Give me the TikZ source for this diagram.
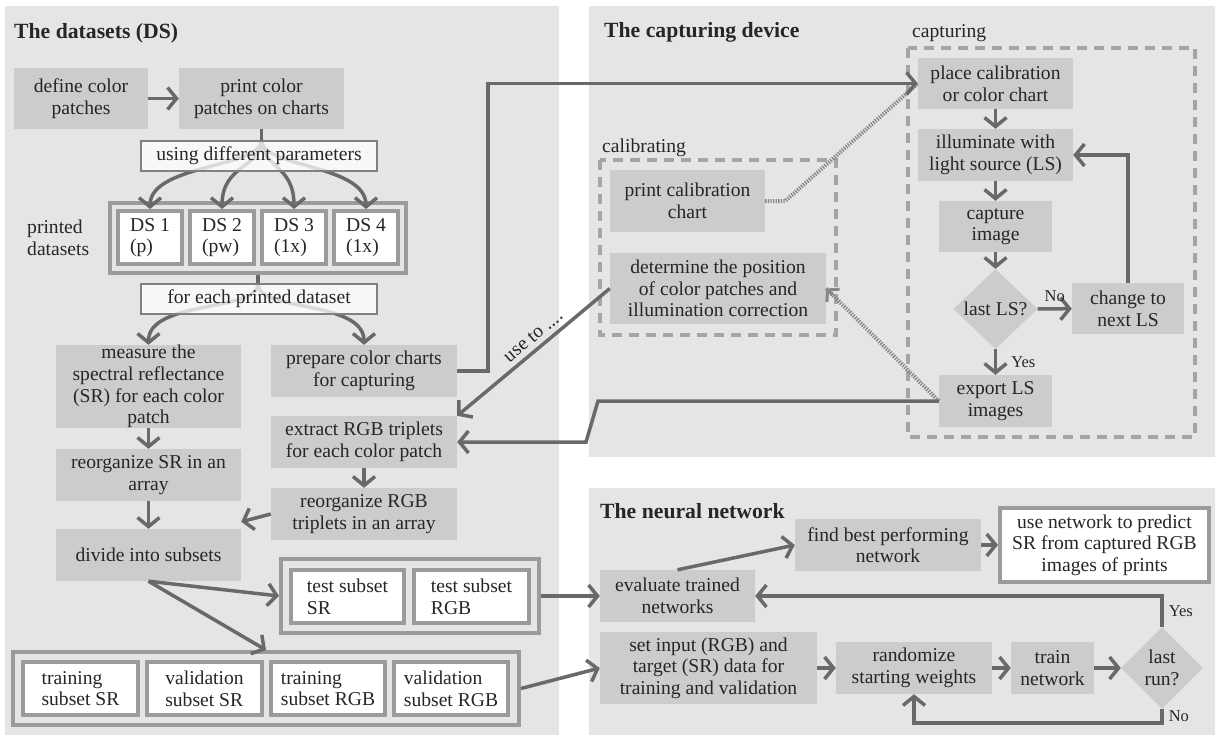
\documentclass[tikz,border=0pt]{standalone}
\usepackage{fontspec}
\setmainfont{Liberation Serif}
\usetikzlibrary{arrows.meta,shapes.geometric}

\definecolor{panelbg}{RGB}{229,229,229}
\definecolor{boxgray}{RGB}{204,204,204}
\definecolor{linegray}{RGB}{105,105,105}
\definecolor{framegray}{RGB}{155,155,155}
\definecolor{dashgray}{RGB}{165,165,165}
\definecolor{dotgray}{RGB}{135,135,135}
\definecolor{txtgray}{RGB}{38,38,38}

\newcommand{\bodyfont}{\fontsize{19.6}{21.6}\selectfont}
\newcommand{\headfont}{\fontsize{21.7}{24}\selectfont\bfseries}
\newcommand{\smallfont}{\fontsize{16.5}{19}\selectfont}

\tikzset{
  proc/.style={fill=boxgray, align=center, inner sep=0pt, text=txtgray, font=\bodyfont},
  subbox/.style={fill=white, draw=framegray, line width=4pt, align=left, inner sep=0pt, text=txtgray, font=\bodyfont},
  group/.style={draw=framegray, line width=4pt, inner sep=0pt},
  tag/.style={fill=white, fill opacity=.75, text opacity=1, draw=gray, line width=1.5pt, inner sep=0pt, text=txtgray, font=\bodyfont},
  decide/.style={diamond, aspect=1, fill=boxgray, inner sep=0pt, align=center, text=txtgray, font=\bodyfont},
  arr/.style={draw=linegray, line width=3.5pt, -{Straight Barb[length=9pt,width=22pt]}},
  dotline/.style={draw=dotgray, line width=4pt, dash pattern=on 1.3pt off 1.3pt},
  dottip/.style={draw=dotgray, line width=3pt, -{Straight Barb[length=8pt,width=18pt]}},
  dashbox/.style={draw=dashgray, line width=4pt, dash pattern=on 10pt off 7pt},
  head/.style={anchor=base west, inner sep=0pt, font=\headfont, text=txtgray},
  note/.style={inner sep=0pt, font=\bodyfont, text=txtgray},
  yesno/.style={inner sep=0pt, font=\smallfont, text=txtgray},
}

\begin{document}
\begin{tikzpicture}[x=1pt,y=-1pt]
  \useasboundingbox (0,0) rectangle (1218,739);
  \fill[white] (0,0) rectangle (1218,739);

  % panels
  \fill[panelbg] (5,6) rectangle (559,735);
  \fill[panelbg] (589,6) rectangle (1215,457);
  \fill[panelbg] (589,488) rectangle (1215,735);
  \node[head] (dstitle) at (14,38) {The datasets (DS)};
  \node[head] (camtitle) at (604,37) {The capturing device};
  \node[head] (nntitle) at (600,518) {The neural network};

  % the datasets
  \node[proc, minimum width=134, minimum height=61] (define) at (81,98.5) {define color\\patches};
  \node[proc, minimum width=165, minimum height=61] (print) at (261.5,98.5) {print color\\patches on charts};
  \node[group, minimum width=296, minimum height=70] (dsset) at (258,238) {};
  \node[subbox, minimum width=64, minimum height=53] (ds1) at (150,237.5) {DS 1\\(p)};
  \node[subbox, minimum width=64, minimum height=53] (ds2) at (222,237.5) {DS 2\\(pw)};
  \node[subbox, minimum width=64, minimum height=53] (ds3) at (294,237.5) {DS 3\\(1x)};
  \node[subbox, minimum width=64, minimum height=53] (ds4) at (366,237.5) {DS 4\\(1x)};
  \node[note, anchor=west, align=left] (printed) at (27,238) {printed\\datasets};
  \node[proc, minimum width=185, minimum height=83] (measure) at (148.5,386.5) {measure the\\spectral reflectance\\(SR) for each color\\patch};
  \node[proc, minimum width=186, minimum height=52] (prepare) at (364,371) {prepare color charts\\for capturing};
  \node[proc, minimum width=186, minimum height=52] (extract) at (364,442) {extract RGB triplets\\for each color patch};
  \node[proc, minimum width=185, minimum height=52] (reorgsr) at (148.5,475) {reorganize SR in an\\array};
  \node[proc, minimum width=186, minimum height=52] (reorgrgb) at (364,514) {reorganize RGB\\triplets in an array};
  \node[proc, minimum width=185, minimum height=52] (divide) at (148.5,555) {divide into subsets};
  \node[group, minimum width=258, minimum height=74] (testset) at (410,596) {};
  \node[subbox, minimum width=113, minimum height=53] (testsr) at (347.5,596.5) {test subset\\SR};
  \node[subbox, minimum width=115, minimum height=53] (testrgb) at (471.5,596.5) {test subset\\RGB};
  \node[group, minimum width=506, minimum height=73] (trainset) at (266,688.5) {};
  \node[subbox, minimum width=115, minimum height=53] (trainsr) at (80.5,688.5) {training\\subset SR};
  \node[subbox, minimum width=115, minimum height=53] (valsr) at (204.5,688.5) {validation\\subset SR};
  \node[subbox, minimum width=114, minimum height=53] (trainrgb) at (328,688.5) {training\\subset RGB};
  \node[subbox, minimum width=114, minimum height=53] (valrgb) at (451,688.5) {validation\\subset RGB};

  % the capturing device
  \node[note, anchor=base west] (callabel) at (602,152) {calibrating};
  \draw[dashbox] (600,160) rectangle (836,335);
  \node[proc, minimum width=155, minimum height=62] (printcal) at (687.5,201) {print calibration\\chart};
  \node[proc, minimum width=216, minimum height=71] (determine) at (718,288.5) {determine the position\\of color patches and\\illumination correction};
  \node[note, anchor=base west] (caplabel) at (912,37) {capturing};
  \draw[dashbox] (908,48) rectangle (1195,437);
  \node[proc, minimum width=155, minimum height=51] (place) at (995.5,83.5) {place calibration\\or color chart};
  \node[proc, minimum width=155, minimum height=52] (illum) at (995.5,155) {illuminate with\\light source (LS)};
  \node[proc, minimum width=113, minimum height=51] (capture) at (995.5,226.5) {capture\\image};
  \node[decide, minimum width=84, minimum height=80] (lastls) at (995.5,309) {last LS?};
  \node[proc, minimum width=112, minimum height=51] (change) at (1128,308.5) {change to\\next LS};
  \node[proc, minimum width=113, minimum height=52] (export) at (995.5,401) {export LS\\images};

  % the neural network
  \node[proc, minimum width=186, minimum height=52] (findbest) at (888,545) {find best performing\\network};
  \node[subbox, align=center, minimum width=209, minimum height=74] (usenet) at (1104.5,545) {use network to predict\\SR from captured RGB\\images of prints};
  \node[proc, minimum width=155, minimum height=52] (evaluate) at (677.5,596) {evaluate trained\\networks};
  \node[proc, minimum width=217, minimum height=72] (setinput) at (708.5,668) {set input (RGB) and\\target (SR) data for\\training and validation};
  \node[proc, minimum width=156, minimum height=52] (randomize) at (914,668) {randomize\\starting weights};
  \node[proc, minimum width=83, minimum height=52] (trainnet) at (1052.5,668) {train\\network};
  \node[decide, minimum width=82, minimum height=82] (lastrun) at (1162,668) {last\\run?};

  % branches
  \coordinate (fork1) at (261.5,140);
  \coordinate (fork2) at (258,284);
  \draw[draw=linegray, line width=3.5pt] (print.south) -- (fork1);
  \foreach \ds in {ds1,ds2,ds3,ds4}
    \draw[arr] (fork1) .. controls +(0,28) and +(0,-45) .. (\ds.north);
  \draw[draw=linegray, line width=3.5pt] (dsset.south) -- (fork2);
  \draw[arr] (fork2) .. controls +(0,28) and +(0,-45) .. (measure.north);
  \draw[arr] (fork2) .. controls +(0,28) and +(0,-45) .. (prepare.north);
  \node[tag, minimum width=236, minimum height=30] (using) at (259,156) {using different parameters};
  \node[tag, minimum width=236, minimum height=30] (foreach) at (259,299) {for each printed dataset};

  % connectors
  \draw[arr] (define) -- (print);
  \draw[arr] (measure) -- (reorgsr);
  \draw[arr] (reorgsr) -- (divide);
  \draw[arr] (extract) -- (reorgrgb);
  \draw[arr] (reorgrgb.west) -- ([yshift=7pt]divide.north east);
  \draw[arr] (divide.south) -- (testset.west);
  \draw[arr] (divide.south) -- (trainset.north);
  \draw[dotline] (printcal.east) -- ++(20,0) -- (place.west);
  \draw[dotline] (export.west) -- (determine.east);
  \draw[dottip, shorten <=150pt] (export.west) -- (determine.east);
  \coordinate (riser) at (488,83.5);
  \draw[arr] (prepare.east) -| (riser) -- (place.west);
  \draw[arr] (determine.west) -- node[note, sloped, pos=.45, above=5pt] {use to ....} (extract.north east);
  \draw[arr] (export.west) -- (598,401) -- (586,442) -- (extract.east);
  \draw[arr] (place) -- (illum);
  \draw[arr] (illum) -- (capture);
  \draw[arr] (capture) -- (lastls);
  \draw[arr] (lastls) -- node[yesno, above=5pt] {No} (change);
  \draw[arr] (change.north) |- (illum.east);
  \draw[arr] (lastls.south) -- node[yesno, anchor=west, xshift=14pt] {Yes} (export.north);
  \draw[arr] (testset.east) -- (evaluate.west);
  \draw[arr] (trainset.east) -- (setinput.west);
  \draw[arr] (evaluate.north) -- (findbest.west);
  \draw[arr] (findbest) -- (usenet);
  \draw[arr] (setinput) -- (randomize);
  \draw[arr] (randomize) -- (trainnet);
  \draw[arr] (trainnet) -- (lastrun);
  \draw[arr] (lastrun.north) -- node[yesno, anchor=west, xshift=5pt] {Yes} (lastrun.north |- evaluate.east) -- (evaluate.east);
  \draw[arr] (lastrun.south) -- node[yesno, anchor=west, xshift=5pt] {No} ++(0,14) -| (randomize.south);
\end{tikzpicture}
\end{document}
